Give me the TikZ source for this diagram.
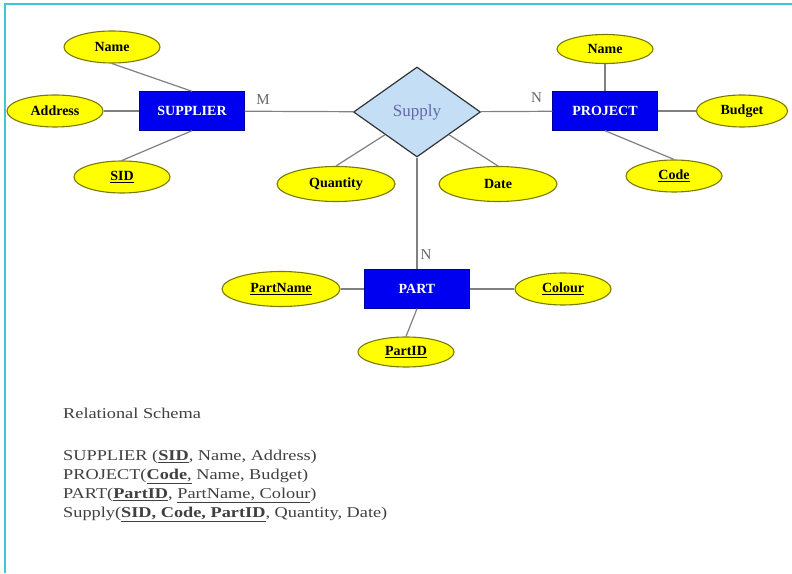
\documentclass[tikz,border=0pt]{standalone}
\usepackage{fontspec}
\setmainfont{Liberation Serif}
\newfontfamily\schemafont[FakeStretch=1.22]{Liberation Serif}
\usetikzlibrary{positioning, shapes.geometric}
\definecolor{entblue}{HTML}{0000F0}
\definecolor{attryellow}{HTML}{FFFF00}
\definecolor{attrline}{HTML}{7A7A00}
\definecolor{relblue}{HTML}{C4DEF6}
\definecolor{linkgray}{HTML}{808080}
\definecolor{framecyan}{HTML}{3CC8D8}
\tikzset{
entity/.style={rectangle, draw=blue!60!black, fill=entblue, text=white, minimum width=105pt, minimum height=39pt, inner sep=0pt, font=\fontsize{14}{16}\selectfont\bfseries}, % the blue entity boxes
attr/.style={ellipse, draw=attrline, line width=1.1pt, fill=attryellow, minimum width=96pt, minimum height=32pt, inner sep=0pt, font=\fontsize{14}{16}\selectfont\bfseries}, % the yellow attribute ovals
wide/.style={minimum width=118pt, minimum height=35pt}, % the larger ovals
rel/.style={diamond, draw=black!80, line width=1.2pt, fill=relblue, minimum width=127pt, minimum height=90pt, inner sep=0pt, text=black!55!blue!60, font=\fontsize{17}{19}\selectfont}, % the relationship
link/.style={draw=linkgray, line width=1.2pt}, % plain connecting lines
card/.style={text=black!60, inner sep=1pt, font=\fontsize{15}{17}\selectfont}, % M and N
}

\begin{document}
\begin{tikzpicture}[x=1pt, y=1pt]
  \useasboundingbox (0,0) rectangle (792,573);
  \draw[framecyan, line width=2pt] (5,0) -- (5,568.5) -- (792,568.5);

  % Entities and relationship
  \node[entity] (supplier) at (192,462) {SUPPLIER};
  \node[rel] (supply) at (417,461) {Supply};
  \node[entity] (project) at (605,462) {PROJECT};
  \node[entity, below of=supply, node distance=177pt] (part) {PART};

  % Attributes
  \node[attr] (sname) at (112,526) {Name};
  \node[attr, left of=supplier, node distance=137pt] (saddr) {Address};
  \node[attr] (sid) at (122,396) {\underline{SID}};
  \node[attr, above of=project, node distance=62pt, minimum height=29pt] (pname) {Name};
  \node[attr, right of=project, node distance=137pt, minimum width=91pt] (budget) {Budget};
  \node[attr] (code) at (674,397) {\underline{Code}};
  \node[attr, wide] (qty) at (336,389) {Quantity};
  \node[attr, wide] (date) at (498,389) {Date};
  \node[attr, wide, left of=part, node distance=136pt] (partname) {\underline{PartName}};
  \node[attr, right of=part, node distance=146pt] (colour) {\underline{Colour}};
  \node[attr, minimum height=30pt] (partid) at (406,221) {\underline{PartID}};

  % Connections
  \path[link]
    (supplier) edge node[card, pos=0.17, above=5pt] {M} (supply)
    (supply) edge node[card, pos=0.78, above=7pt] {N} (project)
    (supply) edge node[card, pos=0.87, right=2pt] {N} (part)
    (sname.south) edge (supplier.north)
    (saddr) edge (supplier)
    (sid.north) edge (supplier.south)
    (supply.south west) edge (qty.north)
    (supply.south east) edge (date.north)
    (pname) edge (project)
    (project) edge (budget)
    (project.south) edge (code.north)
    (partname) edge (part)
    (part) edge (colour)
    (part.south) edge (partid.north);

  % Relational schema
  \node[anchor=north west, align=left, inner sep=0pt, text=black!75, font=\schemafont\fontsize{15}{19}\selectfont] (schema) at (63,165)
    {Relational Schema\\[23pt]
     SUPPLIER (\underline{\textbf{SID}}, Name, Address)\\
     PROJECT(\underline{\textbf{Code},} Name, Budget)\\
     PART(\underline{\textbf{PartID}}, \underline{PartName, Colour})\\
     Supply(\underline{\textbf{SID, Code, PartID}}, Quantity, Date)};
\end{tikzpicture}
\end{document}
